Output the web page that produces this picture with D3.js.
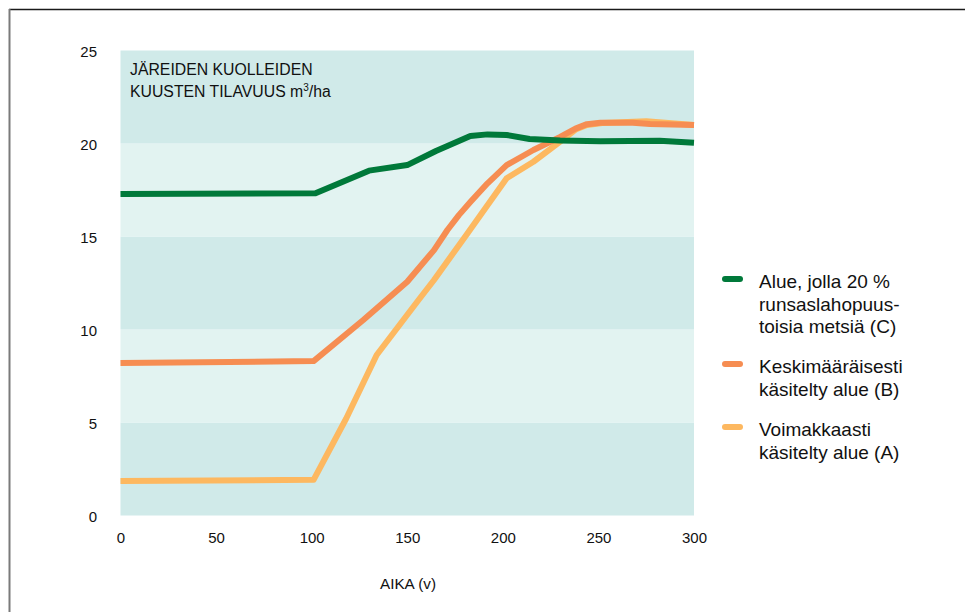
<!DOCTYPE html>
<html>
<head>
<meta charset="utf-8">
<script src="https://cdn.jsdelivr.net/npm/d3@7"></script>
<style>
  html, body { margin: 0; padding: 0; background: #fff; }
  svg { display: block; font-family: "Liberation Sans", Arial, sans-serif; }
</style>
</head>
<body>
<svg id="chart" width="965" height="612"></svg>
<script>
// Volume of large dead spruces (m³/ha) over time (years), three management scenarios
const yearsC  = [0, 102, 130, 150, 165, 183, 192, 202, 214, 230, 251, 282, 300];
const volumeC = [17.28, 17.32, 18.54, 18.84, 19.6, 20.40, 20.49, 20.46, 20.24, 20.16, 20.12, 20.15, 20.04];

const yearsB  = [0, 101, 127, 150, 164, 171, 177, 183, 192, 202, 216, 230, 238, 244, 251, 268, 277, 300];
const volumeB = [8.2, 8.3, 10.51, 12.57, 14.27, 15.35, 16.15, 16.85, 17.86, 18.84, 19.65, 20.35, 20.8, 21.04, 21.12, 21.12, 21.05, 20.99];

const yearsA  = [0, 101, 118, 134, 156, 164, 181, 202, 216, 230, 238, 244, 252, 275, 300];
const volumeA = [1.85, 1.92, 5.2, 8.63, 11.6, 12.66, 15.1, 18.13, 19.02, 20.1, 20.75, 21.0, 21.1, 21.2, 21.0];

const xTicks = [0, 50, 100, 150, 200, 250, 300];
const yTicks = [0, 5, 10, 15, 20, 25];

const seriesNames = [
  ["Alue, jolla 20 %", "runsaslahopuus-", "toisia metsiä (C)"],
  ["Keskimääräisesti", "käsitelty alue (B)"],
  ["Voimakkaasti", "käsitelty alue (A)"]
];
const seriesColors = ["#00793a", "#f68d52", "#fdb860"];
const bandColors = ["#d0eae9", "#e2f3f1"];

const svg = d3.select("#chart");

// frame lines along the top and left edge
svg.append("line").attr("x1", 9).attr("x2", 965).attr("y1", 9.5).attr("y2", 9.5)
  .attr("stroke", "#1a1a1a").attr("stroke-width", 1.5);
svg.append("line").attr("x1", 9.5).attr("x2", 9.5).attr("y1", 9).attr("y2", 612)
  .attr("stroke", "#7a7a7a").attr("stroke-width", 2);

const x = d3.scaleLinear().domain([0, 300]).range([120.5, 694]);
const y = d3.scaleLinear().domain([0, 25]).range([515.5, 50.5]);

// alternating horizontal bands
const bands = d3.range(0, 25, 5);
svg.append("g").selectAll("rect").data(bands).join("rect")
  .attr("x", x(0))
  .attr("width", x(300) - x(0))
  .attr("y", d => y(d + 5))
  .attr("height", d => y(d) - y(d + 5))
  .attr("fill", (d, i) => bandColors[i % 2]);

// axes (text only)
const yAxis = d3.axisLeft(y).tickValues(yTicks).tickSize(0).tickPadding(0);
const gy = svg.append("g").attr("transform", "translate(97,1.5)").call(yAxis);
gy.select(".domain").remove();
gy.selectAll("text").attr("font-size", 15).attr("fill", "#111")
  .attr("font-family", "Liberation Sans, Arial, sans-serif");

const xAxis = d3.axisBottom(x).tickValues(xTicks).tickSize(0).tickPadding(0);
const gx = svg.append("g").attr("transform", "translate(0,532)").call(xAxis);
gx.select(".domain").remove();
gx.selectAll("text").attr("font-size", 15).attr("fill", "#111")
  .attr("font-family", "Liberation Sans, Arial, sans-serif");

svg.append("text").attr("x", 408).attr("y", 589).attr("text-anchor", "middle")
  .attr("font-size", 15.3).attr("fill", "#111").text("AIKA (v)");

// title inside the plot
const title = svg.append("text").attr("x", 130).attr("font-size", 15.8).attr("fill", "#111");
title.append("tspan").attr("x", 130).attr("y", 74.5).text("JÄREIDEN KUOLLEIDEN");
const t2 = title.append("tspan").attr("x", 130).attr("y", 96.5);
t2.append("tspan").text("KUUSTEN TILAVUUS m");
t2.append("tspan").attr("font-size", 10).attr("dy", -6).text("3");
t2.append("tspan").attr("dy", 6).text("/ha");

// series lines
const line = d3.line().x(d => x(d[0])).y(d => y(d[1])).curve(d3.curveLinear);
const series = [
  d3.zip(yearsC, volumeC),
  d3.zip(yearsB, volumeB),
  d3.zip(yearsA, volumeA)
];
// draw A first, then B, then C on top
[2, 1, 0].forEach(i => {
  svg.append("path").datum(series[i])
    .attr("d", line)
    .attr("fill", "none")
    .attr("stroke", seriesColors[i])
    .attr("stroke-width", 6)
    .attr("stroke-linejoin", "round");
});

// legend
const legendTop = [288, 373, 436];
seriesNames.forEach((lines, i) => {
  const g = svg.append("g");
  g.append("line")
    .attr("x1", 725).attr("x2", 740)
    .attr("y1", legendTop[i] - 9).attr("y2", legendTop[i] - 9)
    .attr("stroke", seriesColors[i]).attr("stroke-width", 6)
    .attr("stroke-linecap", "round");
  const t = g.append("text").attr("font-size", 19).attr("fill", "#111");
  lines.forEach((s, j) => {
    t.append("tspan").attr("x", 759).attr("y", legendTop[i] + j * 22.6).text(s);
  });
});
</script>
</body>
</html>
